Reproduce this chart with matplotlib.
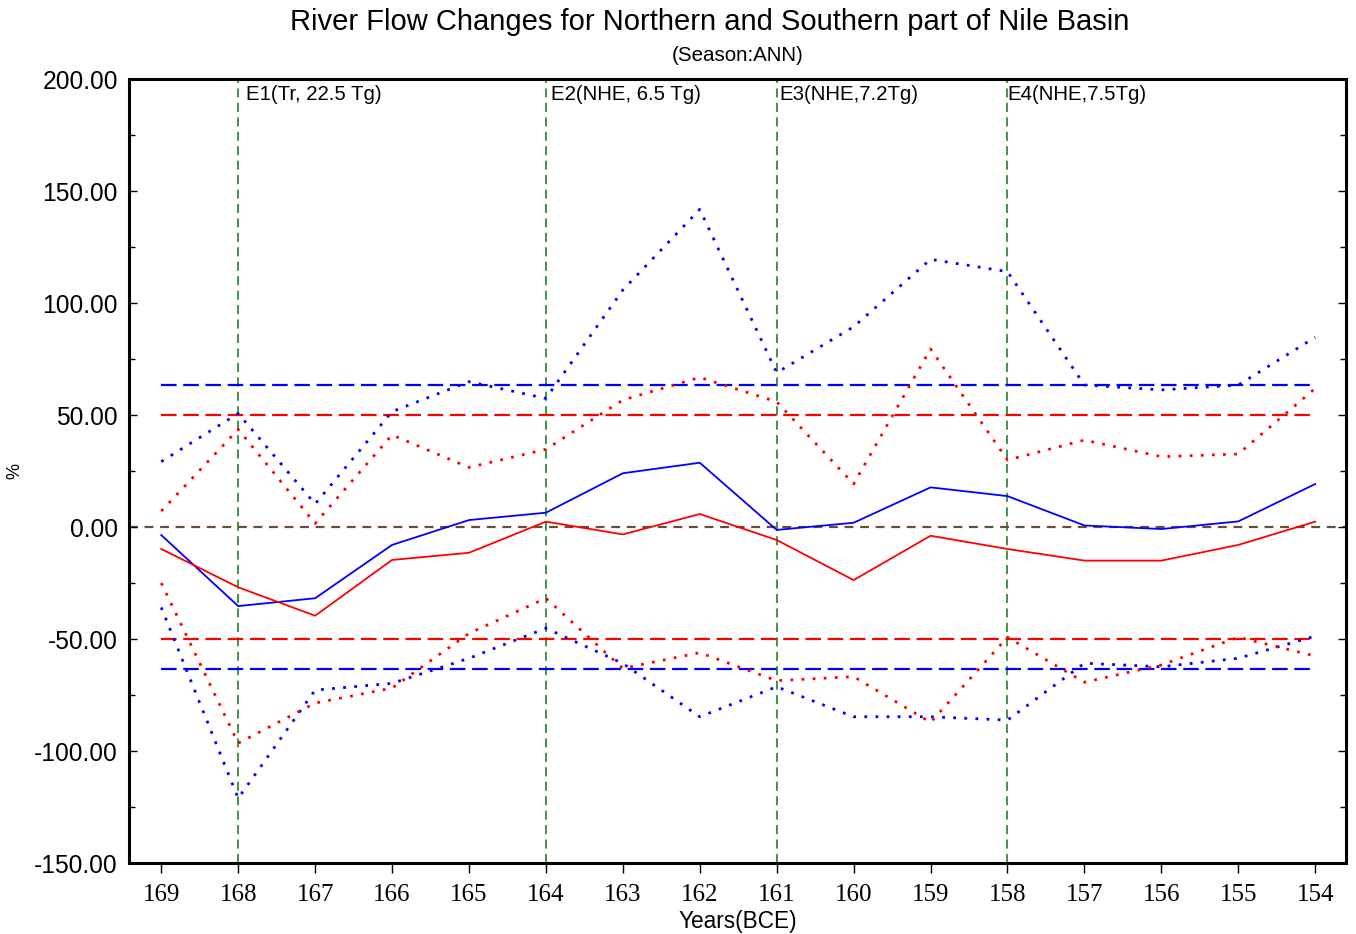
import numpy as np
import matplotlib.pyplot as plt
from matplotlib.ticker import MultipleLocator, FormatStrFormatter

# Years BCE, plotted left to right from 169 down to 154
years = [169, 168, 167, 166, 165, 164, 163, 162, 161, 160, 159, 158, 157, 156, 155, 154]

# Northern part (blue) and southern part (red): mean change and spread bounds (%)
north_mean = [-3.6, -35.3, -31.8, -8.0, 3.1, 6.4, 24.0, 28.7, -1.3, 1.9, 17.7, 13.8, 0.7, -0.9, 2.5, 19.2]
north_upper = [29.2, 50.7, 10.3, 51.5, 64.9, 57.4, 105.8, 141.8, 68.9, 89.4, 119.5, 114.0, 63.4, 61.2, 63.4, 84.7]
north_lower = [-35.9, -121.1, -72.8, -69.8, -58.6, -45.2, -60.9, -84.7, -71.3, -84.7, -84.7, -86.2, -60.8, -62.4, -58.6, -48.7]

south_mean = [-9.8, -26.9, -39.6, -14.7, -11.5, 2.4, -3.3, 5.8, -5.8, -23.7, -3.9, -9.8, -15.0, -15.0, -8.0, 2.4]
south_upper = [7.1, 43.6, 1.6, 41.1, 26.6, 34.7, 56.7, 66.8, 55.9, 19.2, 79.5, 29.9, 38.8, 31.4, 32.6, 61.9]
south_lower = [-25.0, -96.5, -78.6, -71.9, -47.5, -31.8, -63.1, -56.1, -68.6, -66.8, -87.2, -49.2, -69.3, -61.6, -49.2, -57.6]

# Significance thresholds (%)
north_thresholds = [63.3, -63.3]
south_thresholds = [50.0, -50.0]

# Eruption events
event_years = [168, 164, 161, 158]
event_labels = ['E1(Tr, 22.5 Tg)', 'E2(NHE, 6.5 Tg)', 'E3(NHE,7.2Tg)', 'E4(NHE,7.5Tg)']
event_label_x = [167.9, 163.93, 160.97, 158.0]

SANS = ['Liberation Sans', 'DejaVu Sans']
SERIF = ['Liberation Serif', 'DejaVu Serif']


def main() -> None:
    fig = plt.figure(figsize=(13.56, 9.34), dpi=100)
    ax = fig.add_axes([0.0951, 0.076, 0.8975, 0.8394])

    green = '#2e8b3a'
    brown = '#6b4c3b'

    # Event markers
    for yr, lx, label in zip(event_years, event_label_x, event_labels):
        ax.axvline(yr, color=green, linewidth=1.3, linestyle=(0, (5, 3)), zorder=1)
        ax.text(lx, 193.3, label, fontsize=14.7, family=SANS, ha='left', va='center')

    # Zero line and thresholds
    ax.axhline(0, color=brown, linewidth=1.6, linestyle=(0, (4, 3)), zorder=1)
    for thr in north_thresholds:
        ax.hlines(thr, years[0], years[-1], color='blue', linewidth=1.6, linestyle=(0, (7, 3)), zorder=2)
    for thr in south_thresholds:
        ax.hlines(thr, years[0], years[-1], color='red', linewidth=1.6, linestyle=(0, (7, 3)), zorder=2)

    # Spread bounds
    dots = (0, (1, 3))
    ax.plot(years, north_upper, color='blue', linewidth=2, linestyle=dots, zorder=3)
    ax.plot(years, north_lower, color='blue', linewidth=2, linestyle=dots, zorder=3)
    ax.plot(years, south_upper, color='red', linewidth=2, linestyle=dots, zorder=3)
    ax.plot(years, south_lower, color='red', linewidth=2, linestyle=dots, zorder=3)

    # Means
    ax.plot(years, north_mean, color='blue', linewidth=1.3, zorder=4)
    ax.plot(years, south_mean, color='red', linewidth=1.3, zorder=4)

    ax.set_xlim(169.42, 153.6)
    ax.set_ylim(-150, 200)
    ax.set_xticks(years)
    ax.set_xticklabels([str(y) for y in years], family=SERIF, fontsize=18)
    ax.yaxis.set_major_locator(MultipleLocator(50))
    ax.yaxis.set_minor_locator(MultipleLocator(25))
    ax.yaxis.set_major_formatter(FormatStrFormatter('%.2f'))
    for lbl in ax.get_yticklabels():
        lbl.set_family(SANS)
        lbl.set_fontsize(17.7)

    ax.tick_params(axis='x', which='major', direction='out', length=7.2, width=1, pad=8, top=False)
    ax.tick_params(axis='y', which='major', direction='in', length=5.5, width=1, pad=8, left=True, right=True)
    ax.tick_params(axis='y', which='minor', direction='in', length=4, width=1, left=True, right=True)

    for spine in ax.spines.values():
        spine.set_linewidth(2.2)

    ax.set_xlabel('Years(BCE)', family=SANS, fontsize=16.3, labelpad=3)
    ax.set_ylabel('%', family=SANS, fontsize=13, labelpad=8)

    fig.text(0.5236, 0.9765, 'River Flow Changes for Northern and Southern part of Nile Basin',
             family=SANS, fontsize=21, ha='center', va='center')
    fig.text(0.5442, 0.9405, '(Season:ANN)', family=SANS, fontsize=14.8, ha='center', va='center')

    fig.savefig('out.png', dpi=100)


if __name__ == '__main__':
    main()
